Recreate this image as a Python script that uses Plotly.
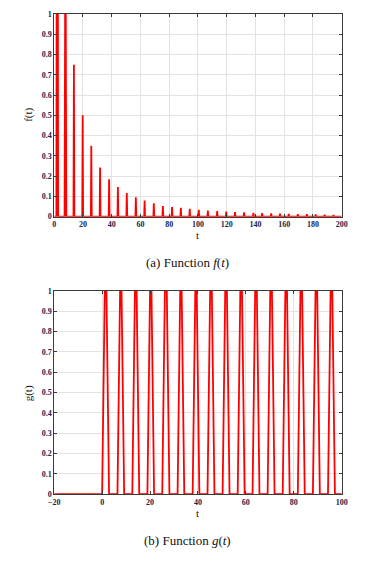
import plotly.graph_objects as go

# f(t): spike positions and heights
f_spike_t = [2.1, 7.8, 13.7, 19.8, 25.8, 31.9, 38.2, 44.3, 50.5, 56.8, 62.9, 69.3,
             75.6, 82.0, 88.1, 94.3, 100.6, 106.9, 113.4, 119.7, 125.8, 132.1, 138.6,
             144.7, 151.0, 157.1, 163.2, 169.5, 175.8, 181.9, 188.2, 194.3]
f_spike_h = [4.0, 1.6, 0.75, 0.50, 0.35, 0.243, 0.184, 0.146, 0.117, 0.096, 0.079, 0.066,
             0.053, 0.048, 0.044, 0.039, 0.034, 0.030, 0.027, 0.025, 0.023, 0.021, 0.019,
             0.018, 0.016, 0.015, 0.014, 0.013, 0.012, 0.011, 0.010, 0.009]

# g(t): where each pulse leaves zero and where it comes back
g_rise = [0.0, 6.4, 12.6, 18.9, 25.1, 31.5, 37.8, 44.0, 50.3, 56.6, 62.8, 69.1,
          75.4, 81.7, 88.0, 94.3]
g_fall = [2.9, 9.2, 15.5, 21.7, 28.1, 34.3, 40.6, 46.9, 53.2, 59.5, 65.7, 72.0,
          78.3, 84.6, 90.9, 97.2]

f_xrange = [0, 200]
g_xrange = [-20, 100]
y_ticks = [0, 0.1, 0.2, 0.3, 0.4, 0.5, 0.6, 0.7, 0.8, 0.9, 1]

SERIF = "Liberation Serif"
RED = "#ff0000"
HALF_W = 0.3   # spike half width in t units
RAMP = 1.1     # pulse ramp in t units
OFF = 8        # page body margin, screen px -> figure px

# build the line for f
fx, fy = [f_xrange[0]], [0]
for t, h in zip(f_spike_t, f_spike_h):
	w = 0.6 if h > 1 else HALF_W
	fx += [t - w, t, t + w]
	fy += [0, h, 0]
fx.append(f_xrange[1])
fy.append(0)

# build the line for g
gx, gy = [g_xrange[0]], [0]
for r, f in zip(g_rise, g_fall):
	gx += [r, r + RAMP, f - RAMP, f]
	gy += [0, 1, 1, 0]
gx.append(g_xrange[1])
gy.append(0)

fig = go.Figure()
fig.add_trace(go.Scatter(x=fx, y=fy, mode="lines", line=dict(color=RED, width=1.8),
	xaxis="x", yaxis="y", showlegend=False))
fig.add_trace(go.Scatter(x=gx, y=gy, mode="lines", line=dict(color=RED, width=1.8),
	xaxis="x2", yaxis="y2", showlegend=False))

W, H = 391, 561

def fx_(x):
	return (x - OFF) / W

def fy_(y):
	return 1 - (y - OFF) / H

top_dom = [fy_(216), fy_(10)]
bot_dom = [fy_(498), fy_(291.5)]
x_dom = [fx_(49.5), fx_(346)]

tickfont = dict(family=SERIF, size=8, color="#22224a", weight="bold")
common = dict(showline=True, linecolor="#3a3a3a", linewidth=1, mirror="ticks",
	ticks="inside", ticklen=3, tickcolor="#3a3a3a", showgrid=True,
	gridcolor="#e3e3e3", gridwidth=1, zeroline=False, tickfont=tickfont)

fig.update_layout(
	width=W, height=H,
	margin=dict(l=0, r=0, t=0, b=0),
	paper_bgcolor="white", plot_bgcolor="white",
	xaxis=dict(domain=x_dom, anchor="y", range=f_xrange, tickvals=list(range(0, 201, 20)), **common),
	yaxis=dict(domain=top_dom, anchor="x", range=[0, 1], tickvals=y_ticks, **common),
	xaxis2=dict(domain=x_dom, anchor="y2", range=g_xrange, tickvals=list(range(-20, 101, 20)), **common),
	yaxis2=dict(domain=bot_dom, anchor="x2", range=[0, 1], tickvals=y_ticks, **common),
)

def px_note(text, x, y, size, angle=0):
	fig.add_annotation(text=text, x=fx_(x), y=fy_(y), xref="paper", yref="paper",
		showarrow=False, textangle=angle, font=dict(family=SERIF, size=size, color="#111"),
		xanchor="center", yanchor="middle")

px_note("t", 197, 235, 11)
px_note("t", 197, 517, 11)
px_note("f(t)", 23, 113, 11, -90)
px_note("g(t)", 23, 396, 11, -90)
px_note("(a) Function <i>f</i>(<i>t</i>)", 187, 263, 13)
px_note("(b) Function <i>g</i>(<i>t</i>)", 187, 545, 13)

fig.write_html("out.html")
